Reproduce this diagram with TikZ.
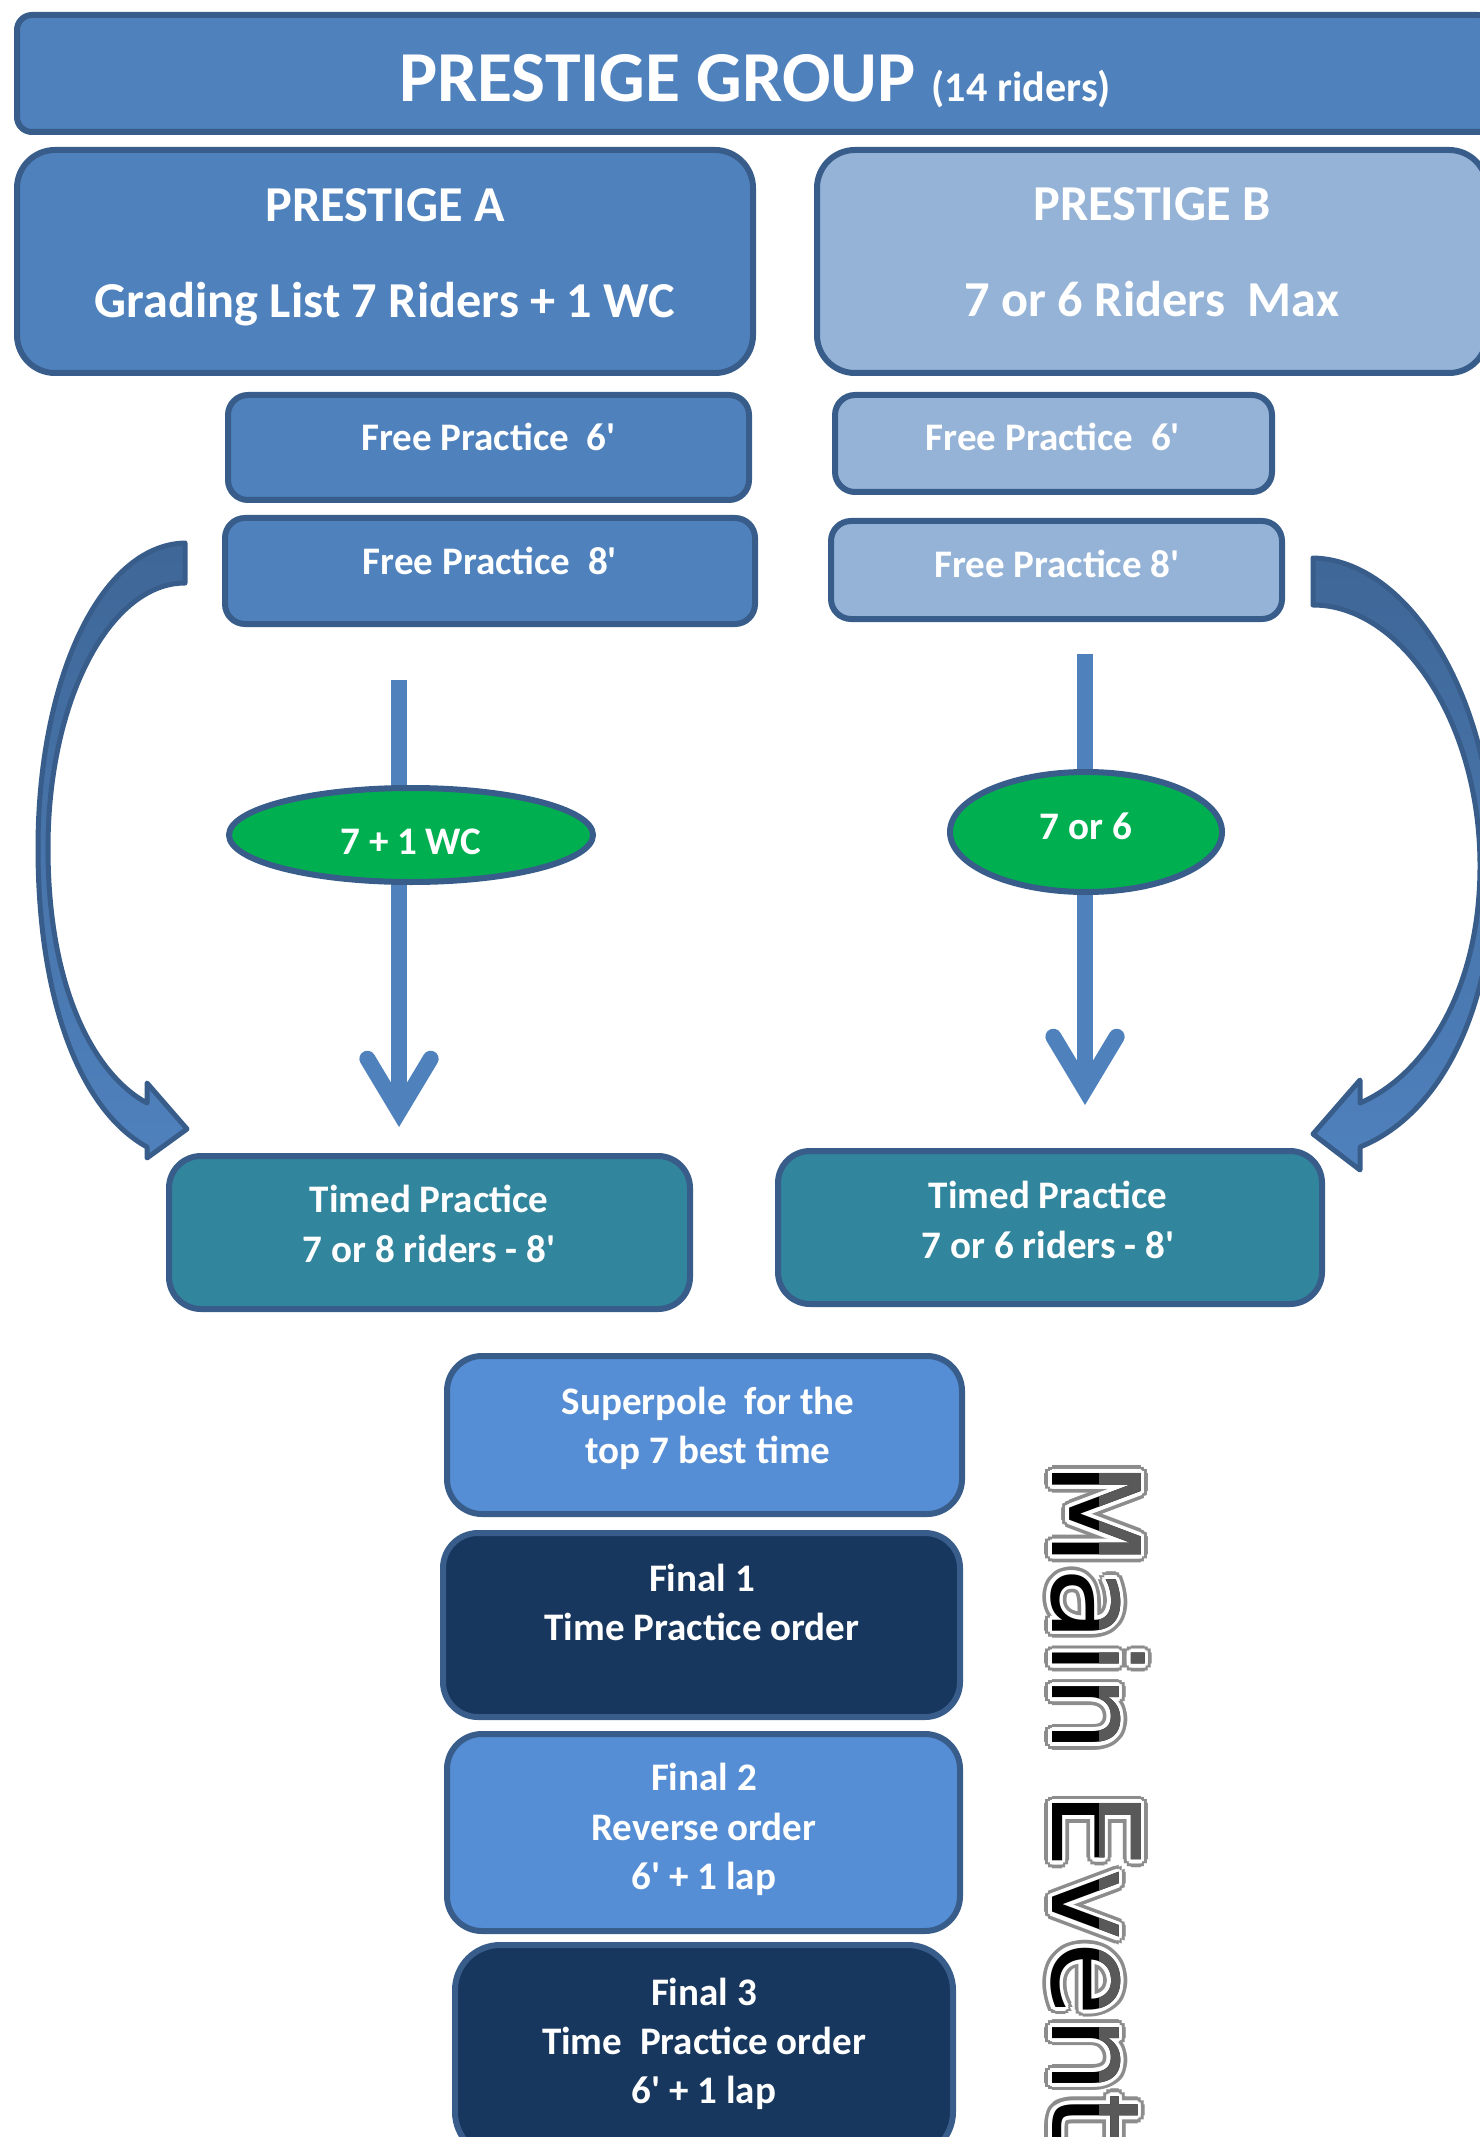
\documentclass[tikz,border=0pt]{standalone}
\usepackage{fontspec}
\setmainfont{Carlito}[Ligatures=TeXOff]
\newfontfamily\evfont{DejaVu Sans}
\usetikzlibrary{shapes.geometric}
\usetikzlibrary{arrows.meta}
\newdimen\px
\px=0.01cm
\definecolor{boxline}{HTML}{385D8A}
\definecolor{blueA}{HTML}{4F81BD}
\definecolor{blueB}{HTML}{95B3D7}
\definecolor{timedteal}{HTML}{31859C}
\definecolor{midblue}{HTML}{558ED5}
\definecolor{finalnavy}{HTML}{17375E}
\definecolor{ovalgreen}{HTML}{00B050}
\definecolor{curvetop}{HTML}{3F6797}
\newcommand\bodyfont{\bfseries\fontsize{11.1pt}{14pt}\selectfont}
\newcommand\headfont{\bfseries\fontsize{14.3pt}{27.3pt}\selectfont}
\newcommand\evsize{\evfont\fontsize{34.7pt}{40pt}\selectfont}
\tikzset{%
  mybox/.style={draw=boxline, line width=6\px, rounded corners=35\px},
  mytext/.style={text=white, font=\bodyfont, align=center, inner sep=0pt},
  myoval/.style={ellipse, draw=boxline, line width=6\px, fill=ovalgreen, inner sep=0pt},
  myedge/.style={draw=blueA, line width=16\px, -{Straight Barb[length=15pt, width=18pt, line cap=round, line join=miter]}},
  mycurve/.style={draw=boxline, line width=5\px, line join=round, top color=curvetop, bottom color=blueA},
  myevent/.style={inner sep=0pt, anchor=base west, rotate=-90, font=\evsize}
}

\begin{document}
\begin{tikzpicture}[x=0.01cm, y=-0.01cm]
  \useasboundingbox (0,0) rectangle (1480,2137);
  \clip (0,0) rectangle (1480,2137);

  \node[mybox, fill=blueA, rounded corners=15\px, minimum width=1476\px, minimum height=117\px] (group) at (755,73.5) {};
  \node[mytext, anchor=base] (grouptxt) at (755,102) {\fontsize{20.4pt}{24pt}\selectfont PRESTIGE GROUP \fontsize{12pt}{14pt}\selectfont(14 riders)};

  \node[mybox, fill=blueA, rounded corners=38\px, minimum width=736\px, minimum height=223\px] (presA) at (385,261.5) {};
  \node[mytext, font=\headfont] (presAtxt) at (385,257) {PRESTIGE A\\Grading List 7 Riders + 1 WC};
  \node[mybox, fill=blueB, rounded corners=38\px, minimum width=670\px, minimum height=223\px] (presB) at (1152,261.5) {};
  \node[mytext, font=\headfont] (presBtxt) at (1152,252) {PRESTIGE B\\7 or 6 Riders\ \ Max};

  \node[mybox, fill=blueA, rounded corners=20\px, minimum width=521\px, minimum height=105\px] (fpA1) at (488.5,447.5) {};
  \node[mytext] (fpA1txt) at (488.5,437) {Free Practice\ \ 6'};
  \node[mybox, fill=blueA, rounded corners=20\px, minimum width=530\px, minimum height=106\px] (fpA2) at (490,571) {};
  \node[mytext] (fpA2txt) at (490,561) {Free Practice\ \ 8'};
  \node[mybox, fill=blueB, rounded corners=20\px, minimum width=437\px, minimum height=97\px] (fpB1) at (1053.5,443.5) {};
  \node[mytext] (fpB1txt) at (1053,437) {Free Practice\ \ 6'};
  \node[mybox, fill=blueB, rounded corners=20\px, minimum width=451\px, minimum height=98\px] (fpB2) at (1056.5,570) {};
  \node[mytext] (fpB2txt) at (1057,564) {Free Practice 8'};

  \node[mybox, fill=timedteal, rounded corners=32\px, minimum width=521\px, minimum height=153\px] (tpA) at (429.5,1232.5) {};
  \node[mytext] (tpAtxt) at (429,1224) {Timed Practice\\7 or 8 riders - 8'};
  \node[mybox, fill=timedteal, rounded corners=32\px, minimum width=544\px, minimum height=153\px] (tpB) at (1050,1227.5) {};
  \node[mytext] (tpBtxt) at (1048,1220) {Timed Practice\\7 or 6 riders - 8'};

  \node[mybox, fill=midblue, minimum width=515\px, minimum height=158\px] (sp) at (704.5,1435) {};
  \node[mytext] (sptxt) at (708,1428) {Superpole\ \ for the\\top 7 best time};
  \node[mybox, fill=finalnavy, minimum width=517\px, minimum height=184\px] (fin1) at (701.5,1625) {};
  \node[mytext] (fin1txt) at (702,1602.5) {Final 1\\Time Practice order};
  \node[mybox, fill=midblue, minimum width=513\px, minimum height=197\px] (fin2) at (703.5,1832.5) {};
  \node[mytext] (fin2txt) at (704,1829.5) {Final 2\\Reverse order\\6' + 1 lap};
  \node[mybox, fill=finalnavy, rounded corners=45\px, minimum width=498\px, minimum height=212\px] (fin3) at (704,2051) {};
  \node[mytext] (fin3txt) at (704,2044) {Final 3\\Time\ \ Practice order\\6' + 1 lap};

  \coordinate (aTop) at (399,680);
  \coordinate (bTop) at (1085,654);
  \draw[myedge, shorten >=26\px] (aTop) -- (aTop |- tpA.north);
  \draw[myedge, shorten >=43\px] (bTop) -- (bTop |- tpB.north);
  \node[myoval, minimum width=364\px, minimum height=94\px] (ovA) at (411,835) {};
  \node[mytext] (ovAtxt) at (411,842) {7 + 1 WC};
  \node[myoval, minimum width=272\px, minimum height=120\px] (ovB) at (1086,832) {};
  \node[mytext] (ovBtxt) at (1086,826) {7 or 6};

  \path[mycurve] (185,543) .. controls (100,545) and (38,680) .. (38,848)
    .. controls (38,1000) and (80,1110) .. (147,1147) -- (147,1158) -- (187,1129)
    -- (147,1083) -- (147,1103) .. controls (95,1075) and (48,990) .. (48,848)
    .. controls (48,700) and (110,583) .. (185,583) -- cycle;
  \path[mycurve] (1313,558) .. controls (1410,560) and (1494,700) .. (1494,866)
    .. controls (1494,1010) and (1440,1115) .. (1360,1147) -- (1360,1170) -- (1313,1134)
    -- (1360,1080) -- (1360,1103) .. controls (1425,1075) and (1480,990) .. (1480,866)
    .. controls (1480,720) and (1400,605) .. (1313,605) -- cycle;

  % glow and white rim under the vertical title
  \foreach \a in {0,30,...,330}
    \node[myevent, text=black!45, shift={(\a:2.2pt)}] (evglow\a) at (1052,1461) {Main Event};
  \foreach \a in {0,30,...,330}
    \node[myevent, text=white, shift={(\a:1.1pt)}] (evrim\a) at (1052,1461) {Main Event};
  \node[myevent, text=black] (mainev) at (1052,1461) {Main Event};
  \begin{scope}
    \clip (1099,1400) rectangle (1200,2137);
    \node[myevent, text=black!65] (maineva) at (1052,1461) {Main Event};
  \end{scope}
\end{tikzpicture}
\end{document}
